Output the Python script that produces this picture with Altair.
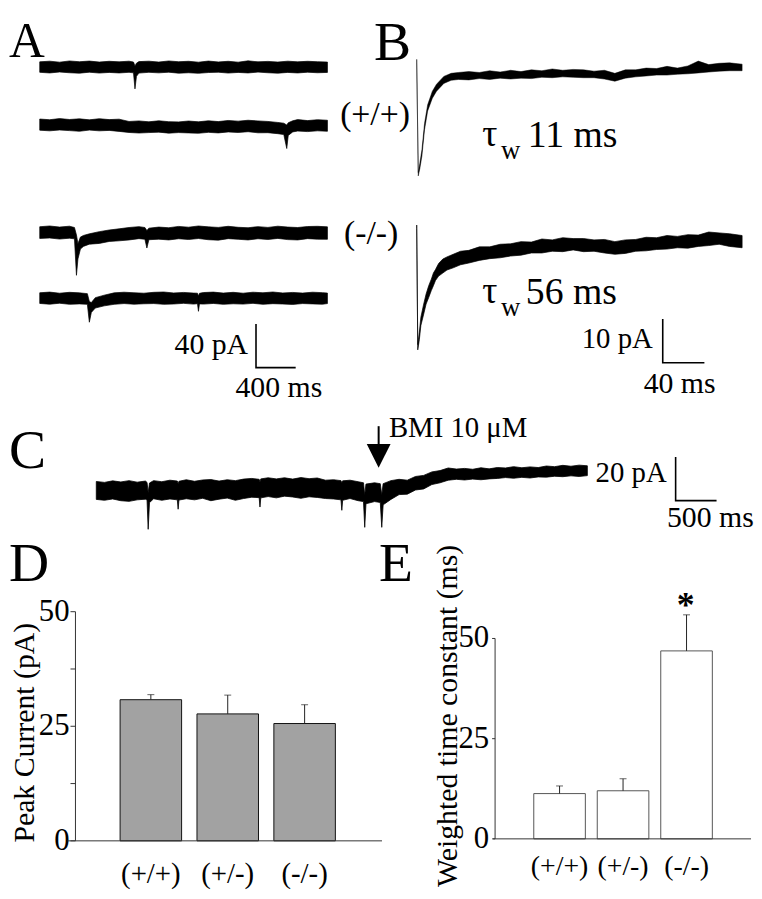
import altair as alt
import pandas as pd

M = 8
FONT = "Liberation Serif"
ONE = pd.DataFrame({"k": [0]})


def P(v):
    return v - M


# ---------------- data ----------------
# Panel A: four spontaneous-current sweeps (t in ms, envelope hi/lo in pA)
A1_T = [0, 100, 200, 300, 400, 500, 600, 700, 800, 900, 945, 960, 975, 1000, 1100, 1200, 1300, 1400, 1500, 1600,
        1700, 1800, 1900, 2000, 2100, 2200, 2300, 2400, 2500, 2600, 2700, 2800, 2900]
A1_HI = [4.8, 5.4, 4.5, 5.6, 4.9, 5.5, 4.6, 5.3, 4.8, 5.4, 4.6, 1.0, 3.6, 5.0, 5.4, 4.6, 5.6, 4.9, 5.3, 4.5,
         5.5, 4.7, 5.3, 4.5, 5.7, 4.8, 5.2, 4.6, 5.4, 4.8, 5.3, 4.9, 4.6]
A1_LO = [-4.8, -5.4, -4.5, -5.2, -5.6, -4.7, -5.5, -4.9, -5.4, -4.8, -5.3, -20.0, -8.5, -5.5, -4.8, -5.3, -4.7, -5.6,
         -5.2, -5.7, -5.0, -4.7, -5.5, -4.9, -5.4, -4.6, -5.2, -5.6, -4.9, -5.4, -4.7, -5.2, -4.9]

A2_T = [0, 100, 200, 300, 400, 500, 600, 700, 800, 900, 1000, 1100, 1200, 1300, 1400, 1500, 1600, 1700, 1800, 1900,
        2000, 2100, 2200, 2300, 2400, 2460, 2490, 2505, 2550, 2600, 2700, 2800, 2900]
A2_HI = [6.0, 5.4, 6.4, 5.6, 6.2, 5.3, 6.3, 5.5, 5.9, 3.8, 4.3, 3.5, 4.4, 3.6, 3.4, 4.2, 3.5, 4.4, 3.7, 4.7,
         4.1, 4.9, 4.3, 3.8, 2.9, 2.2, 0.5, 2.6, 4.4, 5.5, 4.6, 5.4, 4.9]
A2_LO = [-4.2, -4.8, -4.0, -4.6, -5.2, -4.1, -4.8, -4.4, -5.3, -6.3, -6.8, -6.4, -6.0, -6.9, -6.4, -6.7, -7.0, -6.2,
         -6.7, -5.8, -6.3, -5.6, -6.6, -6.5, -7.4, -8.2, -21.0, -9.0, -5.8, -5.0, -5.5, -4.8, -5.2]

A3_T = [0, 100, 200, 300, 350, 370, 385, 410, 440, 500, 600, 700, 800, 900, 1000, 1060, 1080, 1100, 1200, 1300,
        1400, 1500, 1600, 1700, 1800, 1900, 2000, 2100, 2200, 2300, 2400, 2500, 2600, 2700, 2800, 2900]
A3_HI = [5.5, 6.2, 5.2, 6.0, 4.8, -2.0, -10.0, -4.0, -2.5, -1.0, 1.0, 2.5, 3.6, 4.8, 5.6, 4.8, 2.0, 4.2, 5.2, 4.6,
         5.8, 5.1, 6.2, 5.4, 4.9, 5.9, 5.0, 4.6, 5.6, 4.9, 6.0, 5.2, 4.8, 5.7, 5.9, 5.4]
A3_LO = [-5.2, -4.8, -5.8, -5.0, -5.6, -39.0, -24.0, -15.0, -12.5, -10.5, -9.8, -8.0, -7.4, -6.6, -5.4, -6.0, -14.0,
         -6.4, -5.9, -6.6, -5.5, -6.2, -5.3, -6.4, -6.8, -5.4, -6.0, -6.6, -5.5, -6.2, -5.2, -6.3, -6.6, -5.4, -5.9,
         -6.0]

A4_T = [0, 100, 200, 300, 400, 480, 500, 520, 560, 650, 750, 850, 950, 1050, 1150, 1250, 1350, 1450, 1550, 1590,
        1600, 1610, 1650, 1750, 1850, 1950, 2050, 2150, 2250, 2350, 2450, 2550, 2650, 2750, 2850, 2900]
A4_HI = [5.0, 5.6, 4.6, 5.4, 4.9, 4.2, -3.0, -4.0, 0.5, 2.8, 4.9, 5.5, 5.0, 4.6, 5.4, 5.7, 4.8, 5.3, 4.7, 4.6,
         2.0, 4.5, 5.2, 5.6, 4.7, 5.4, 4.6, 5.5, 5.0, 5.7, 4.8, 5.3, 4.7, 5.5, 5.1, 4.7]
A4_LO = [-4.8, -5.5, -4.6, -5.6, -5.2, -5.6, -22.0, -13.0, -9.0, -7.0, -5.6, -4.9, -5.5, -5.1, -4.9, -5.6, -5.3,
         -4.7, -5.4, -5.0, -12.0, -5.2, -5.4, -4.8, -5.6, -5.1, -5.4, -4.7, -5.6, -5.0, -5.3, -5.7, -4.9, -5.2, -5.5,
         -4.9]

# Panel B: averaged events (t in ms, pA)
BP_T = [0, 1.5, 3, 5, 7.5, 10.5, 15, 19, 26, 33, 40, 50, 60, 70, 80, 90, 100, 110, 120, 130,
        140, 150, 160, 170, 180, 190, 200, 210, 220, 230, 240, 250, 260, 270, 280, 290, 300, 312]
BP_HI = [0.4, -25.5, -23.4, -20.3, -14.3, -10.0, -6.9, -5.3, -3.5, -2.8, -2.6, -2.4, -2.6, -2.2, -2.5, -2.1, -2.4,
         -2.0, -2.2, -1.8, -2.1, -1.9, -2.0, -2.3, -2.1, -2.8, -2.0, -2.0, -1.6, -1.7, -1.2, -1.6, -1.1, 0.0, -0.8,
         -0.5, -0.4, -0.7]
BP_LO = [-0.4, -26.3, -24.6, -21.7, -15.7, -11.4, -8.5, -6.9, -5.1, -4.4, -4.2, -4.3, -4.0, -4.2, -3.9, -4.1, -3.9,
         -4.0, -3.7, -3.8, -3.6, -3.7, -3.8, -3.8, -4.1, -4.6, -3.9, -3.6, -3.4, -3.2, -3.2, -3.0, -2.9, -2.7, -2.5,
         -2.3, -2.2, -2.2]

BM_T = [0, 1, 2.5, 4, 6.5, 9, 11.5, 14, 16, 18, 21, 25, 29, 35, 42, 50, 60, 70, 80, 90,
        100, 110, 120, 130, 140, 150, 160, 170, 180, 190, 200, 210, 220, 230, 240, 250, 260, 270, 280, 290, 300, 312]
BM_HI = [0.4, -27.0, -24.2, -20.7, -17.9, -15.4, -13.5, -12.0, -10.6, -9.8, -8.4, -7.4, -6.9, -6.3, -5.6, -5.4, -4.6,
         -4.6, -4.0, -3.9, -3.4, -3.5, -2.8, -3.0, -2.5, -2.7, -2.7, -3.0, -2.9, -3.4, -3.0, -2.9, -2.4, -2.5, -2.0,
         -2.2, -1.8, -1.9, -1.2, -1.4, -1.6, -2.0]
BM_LO = [-0.4, -28.2, -25.9, -22.6, -20.2, -17.7, -16.2, -14.6, -13.5, -12.3, -11.3, -10.6, -9.9, -9.4, -8.7, -8.3,
         -7.7, -7.3, -7.1, -6.7, -6.5, -6.0, -6.0, -5.6, -5.7, -5.3, -5.7, -5.6, -6.0, -6.3, -6.1, -5.6, -5.5, -5.2,
         -5.1, -4.8, -4.9, -4.5, -4.3, -4.0, -4.5, -4.8]

# Panel C: recording with bicuculline application (t in ms, pA)
C_T = [0, 100, 200, 300, 400, 500, 600, 620, 634, 650, 700, 800, 900, 990, 1000, 1010, 1100, 1200, 1300, 1400,
       1500, 1600, 1700, 1800, 1900, 1990, 2000, 2010, 2100, 2200, 2300, 2400, 2500, 2600, 2700, 2800, 2900, 2990,
       3000, 3010, 3100, 3200, 3265, 3280, 3295, 3400, 3470, 3488, 3505, 3600, 3700, 3800, 3900, 4000, 4100, 4200,
       4300, 4400, 4500, 4600, 4700, 4800, 4900, 5000, 5100, 5200, 5300, 5400, 5500, 5600, 5700, 5800, 5900, 6000]
C_HI = [4.2, 3.8, 4.5, 4.0, 4.6, 3.9, 4.4, 3.8, -1.0, 3.5, 4.6, 4.1, 4.8, 4.4, 3.0, 4.3, 5.0, 4.3, 4.9, 5.1,
        4.4, 5.0, 4.6, 5.3, 5.6, 5.2, 4.0, 5.4, 5.9, 5.4, 5.9, 5.3, 6.0, 5.5, 5.8, 4.8, 5.0, 4.6, 3.5, 4.5,
        4.8, 4.1, 3.6, -2.0, 3.0, 3.6, 3.2, -2.0, 3.2, 4.6, 5.2, 4.8, 6.5, 7.0, 8.6, 9.2, 10.4, 9.9, 10.2, 9.8,
        10.5, 10.0, 10.6, 10.4, 11.0, 10.5, 10.9, 10.6, 11.3, 11.0, 11.6, 11.2, 11.7, 11.4]
C_LO = [-4.0, -4.4, -3.8, -4.6, -4.9, -4.2, -3.9, -4.2, -17.7, -5.5, -3.7, -4.4, -3.8, -4.2, -8.5, -4.3, -3.7, -4.2,
        -3.5, -4.6, -3.9, -3.4, -4.4, -3.6, -3.0, -3.2, -7.5, -3.3, -2.7, -3.3, -2.5, -2.9, -3.5, -2.8, -3.1, -3.6,
        -3.8, -4.2, -9.0, -4.4, -3.6, -4.6, -5.0, -16.8, -6.0, -5.0, -5.4, -16.8, -6.5, -4.0, -1.8, -1.6, 0.3, 0.8,
        2.8, 3.6, 4.8, 5.2, 4.9, 5.3, 5.0, 5.4, 5.6, 6.0, 5.7, 6.1, 5.8, 6.3, 6.2, 6.6, 6.4, 6.8, 6.5, 6.9]
BMI_T = [3450]

# Scale bars (ms, pA)
SB_A = (400, 40)
SB_B = (40, 10)
SB_C = (500, 20)

# Panels D and E
GENO = ["(+/+)", "(+/-)", "(-/-)"]
PEAK = [30.8, 27.7, 25.6]
PEAK_ERR = [1.1, 4.1, 4.1]
TAU = [11.3, 12.0, 46.9]
TAU_ERR = [1.9, 3.0, 9.0]
D_TICKS = [0, 12.5, 25, 37.5, 50]
E_TICKS = [0, 25, 50]
LABELED = [0, 25, 50]
LABEL_TXT = ["0", "25", "50"]


# ---------------- helpers ----------------
def label(txt, x, y, size, align="left", baseline="alphabetic", angle=0, weight="normal"):
    return alt.Chart(ONE).mark_text(
        text=txt, font=FONT, fontSize=size, align=align, baseline=baseline,
        angle=angle, fontWeight=weight, color="black"
    ).encode(x=alt.value(P(x)), y=alt.value(P(y)))


def tscale(t_end, x0, x1):
    return alt.Scale(domain=[0, t_end], range=[P(x0), P(x1)], nice=False, zero=False)


def iscale(y0, k):
    return alt.Scale(domain=[-45, 20], range=[P(y0 + 45 * k), P(y0 - 20 * k)], nice=False, zero=False)


def trace(t, hi, lo, t_end, x0, x1, y0, k, sw=0.7):
    assert len(t) == len(hi) == len(lo), (len(t), len(hi), len(lo))
    df = pd.DataFrame({"t": t, "hi": hi, "lo": lo})
    return alt.Chart(df).mark_area(color="black", stroke="black", strokeWidth=sw).encode(
        x=alt.X("t:Q", scale=tscale(t_end, x0, x1), axis=None),
        y=alt.Y("hi:Q", scale=iscale(y0, k), axis=None),
        y2=alt.Y2("lo:Q"),
    )


def scalebar(sb, x0, y0, px_ms, px_pa):
    ms, pa = sb
    df = pd.DataFrame({"t": [0, 0, ms], "v": [pa, 0, 0], "o": [0, 1, 2]})
    return alt.Chart(df).mark_line(color="black", strokeWidth=1.6).encode(
        x=alt.X("t:Q", scale=alt.Scale(domain=[0, ms], range=[P(x0), P(x0 + ms * px_ms)], nice=False), axis=None),
        y=alt.Y("v:Q", scale=alt.Scale(domain=[0, pa], range=[P(y0), P(y0 - pa * px_pa)], nice=False), axis=None),
        order=alt.Order("o:Q"),
    )


def bar_panel(vals, errs, ticks, x0, x1, pad_inner, y_zero, y_fifty, axis_x, base_x0, base_x1,
              fill, stroke, cat_y, tick_len, cat_size):
    df = pd.DataFrame({"g": GENO, "v": vals, "top": [v + e for v, e in zip(vals, errs)]})
    xsc = alt.Scale(domain=GENO, range=[P(x0), P(x1)], paddingInner=pad_inner, paddingOuter=0)
    ysc = alt.Scale(domain=[0, 50], range=[P(y_zero), P(y_fifty)], nice=False, zero=True)
    bars = alt.Chart(df).mark_bar(fill=fill, stroke=stroke, strokeWidth=1).encode(
        x=alt.X("g:N", scale=xsc, axis=None, sort=GENO),
        y=alt.Y("v:Q", scale=ysc, axis=None),
    )
    err = alt.Chart(df).mark_rule(color="#222", strokeWidth=1).encode(
        x=alt.X("g:N", sort=GENO), y="v:Q", y2="top:Q")
    cap = alt.Chart(df).mark_tick(color="#222", thickness=1, size=7).encode(
        x=alt.X("g:N", sort=GENO), y="top:Q")
    dom = alt.Chart(ONE).mark_rule(color="#333", strokeWidth=1).encode(
        x=alt.value(P(axis_x)), y=alt.datum(0), y2=alt.datum(50))
    tk = alt.Chart(pd.DataFrame({"v": ticks})).mark_rule(color="#333", strokeWidth=1).encode(
        x=alt.value(P(axis_x - tick_len)), x2=alt.value(P(axis_x)), y="v:Q")
    tl = alt.Chart(pd.DataFrame({"v": LABELED, "s": LABEL_TXT})).mark_text(
        font=FONT, fontSize=31, align="right", baseline="middle", color="black").encode(
        x=alt.value(P(axis_x - 6)), y="v:Q", text="s:N")
    base = alt.Chart(ONE).mark_rule(color="#333", strokeWidth=1).encode(
        x=alt.value(P(base_x0)), x2=alt.value(P(base_x1)), y=alt.datum(0))
    cats = alt.Chart(df).mark_text(font=FONT, fontSize=cat_size, baseline="middle", color="black").encode(
        x=alt.X("g:N", sort=GENO), y=alt.value(P(cat_y)), text="g:N")
    return alt.layer(bars, err, cap, dom, tk, tl, base, cats).resolve_scale(x="shared", y="shared")


# ---------------- panels ----------------
layers = []

# panel letters
for ch, x, y, s in [("A", 9, 54, 50), ("B", 377, 57, 56), ("C", 9, 468, 56), ("D", 9, 582, 56),
                    ("E", 382, 582, 56)]:
    layers.append(label(ch, x, y, s))

# Panel A
layers += [
    trace(A1_T, A1_HI, A1_LO, 2900, 40, 330, 64, 1.1),
    trace(A2_T, A2_HI, A2_LO, 2900, 40, 330, 123, 1.1),
    trace(A3_T, A3_HI, A3_LO, 2900, 40, 330, 231, 1.1),
    trace(A4_T, A4_HI, A4_LO, 2900, 40, 330, 297, 1.1),
    scalebar(SB_A, 258, 367, 0.1, 1.1),
    label("40 pA", 250, 353, 30, align="right"),
    label("400 ms", 281, 397, 30, align="center"),
]

# Panel B
layers += [
    trace(BP_T, BP_HI, BP_LO, 312, 420, 748, 58, 4.4, sw=0.5),
    trace(BM_T, BM_HI, BM_LO, 312, 420, 748, 225, 4.4),
    label("(+/+)", 378, 112, 34, align="center", baseline="middle"),
    label("(-/-)", 374, 232, 34, align="center", baseline="middle"),
    label("\u03c4", 486, 144, 38),
    label("w", 505, 157, 27),
    label("11 ms", 532, 145, 38),
    label("\u03c4", 486, 302, 38),
    label("w", 505, 315, 27),
    label("56 ms", 530, 303, 38),
    scalebar(SB_B, 668, 362, 1.05, 4.4),
    label("10 pA", 658, 347, 29, align="right"),
    label("40 ms", 685, 393, 30, align="center"),
]

# Panel C
c_tr = trace(C_T, C_HI, C_LO, 6000, 97, 592, 491, 2.2, sw=0.8)
bmi = pd.DataFrame({"t": BMI_T})
stem = alt.Chart(bmi).mark_rule(color="black", strokeWidth=2).encode(
    x="t:Q", y=alt.value(P(426)), y2=alt.value(P(446)))
head = alt.Chart(bmi).mark_point(shape="M-1,-1L1,-1L0,1Z", size=576, filled=True, color="black",
                                 opacity=1, strokeWidth=0).encode(x="t:Q", y=alt.value(P(456)))
layers += [
    alt.layer(c_tr, stem, head).resolve_scale(x="shared", y="shared"),
    label("BMI 10 \u03bcM", 392, 437, 29),
    scalebar(SB_C, 681, 501, 0.0825, 2.2),
    label("20 pA", 672, 482, 29, align="right"),
    label("500 ms", 716, 528, 30, align="center"),
]

# Panel D
layers += [
    bar_panel(PEAK, PEAK_ERR, D_TICKS, 121, 338, 0.2, 844, 613, 76, 68, 385, "#a2a2a2", "#111", 877, 5, 29),
    label("Peak Current (pA)", 25, 735, 30, align="center", baseline="middle", angle=270),
]

# Panel E
layers += [
    bar_panel(TAU, TAU_ERR, E_TICKS, 538, 718, 0.1875, 842, 640, 499, 497, 757, "white", "#555", 870, 3, 28),
    label("Weighted time constant (ms)", 452, 718, 30, align="center", baseline="middle", angle=270),
    label("*", 691, 618, 36, align="center", weight="bold"),
]

chart = (
    alt.layer(*layers)
    .resolve_scale(x="independent", y="independent")
    .properties(width=752, height=883, padding=0, autosize="none")
    .configure_view(stroke=None)
)

chart.save("out.html", embed_options={"renderer": "svg", "actions": False})
